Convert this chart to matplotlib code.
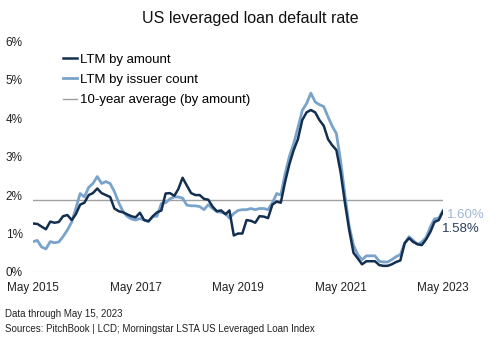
import matplotlib
matplotlib.use("Agg")
import matplotlib.pyplot as plt
import pandas as pd

plt.rcParams['font.family'] = ['Liberation Sans', 'DejaVu Sans']

dates = pd.date_range("2015-05-01", periods=97, freq="MS")

ltm_amount = [
    1.26, 1.25, 1.18, 1.11, 1.31, 1.28, 1.30, 1.45, 1.48, 1.35,
    1.50, 1.75, 1.80, 2.00, 2.05, 2.17, 2.05, 2.00, 1.95, 1.65,
    1.58, 1.55, 1.50, 1.45, 1.42, 1.54, 1.35, 1.32, 1.45, 1.55,
    1.60, 2.04, 2.05, 1.98, 2.15, 2.45, 2.25, 2.05, 2.00, 2.00,
    1.90, 1.88, 1.70, 1.58, 1.60, 1.50, 1.60, 0.95, 1.00, 1.00,
    1.35, 1.33, 1.28, 1.45, 1.44, 1.40, 1.75, 1.83, 1.80, 2.35,
    2.80, 3.17, 3.45, 3.95, 4.15, 4.21, 4.15, 3.95, 3.80, 3.45,
    3.30, 3.17, 2.60, 1.80, 1.10, 0.50, 0.35, 0.20, 0.28, 0.28,
    0.28, 0.18, 0.16, 0.16, 0.20, 0.26, 0.30, 0.75, 0.88, 0.78,
    0.72, 0.70, 0.85, 1.05, 1.30, 1.35, 1.58,
]

ltm_issuer = [
    0.79, 0.82, 0.65, 0.60, 0.79, 0.76, 0.78, 0.92, 1.09, 1.30,
    1.65, 2.04, 1.95, 2.20, 2.30, 2.48, 2.30, 2.35, 2.30, 2.09,
    1.80, 1.57, 1.45, 1.38, 1.35, 1.39, 1.35, 1.31, 1.44, 1.45,
    1.78, 1.80, 1.90, 1.95, 1.95, 1.92, 1.74, 1.72, 1.72, 1.70,
    1.62, 1.75, 1.65, 1.57, 1.55, 1.52, 1.40, 1.52, 1.60, 1.62,
    1.62, 1.65, 1.62, 1.65, 1.65, 1.62, 1.80, 2.04, 2.00, 2.56,
    3.00, 3.34, 3.75, 4.20, 4.38, 4.65, 4.42, 4.35, 4.30, 4.03,
    3.80, 3.60, 2.90, 2.00, 1.20, 0.70, 0.45, 0.32, 0.42, 0.42,
    0.42, 0.28, 0.26, 0.26, 0.32, 0.40, 0.45, 0.75, 0.92, 0.82,
    0.72, 0.78, 0.90, 1.18, 1.38, 1.40, 1.60,
]

ten_year_avg = 1.87
y_ticks = [0, 1, 2, 3, 4, 5, 6]
x_tick_dates = pd.to_datetime(["2015-05-01", "2017-05-01", "2019-05-01", "2021-05-01", "2023-05-01"])
x_tick_labels = ["May 2015", "May 2017", "May 2019", "May 2021", "May 2023"]

dark = "#132f50"
light = "#7aa3cc"

fig = plt.figure(figsize=(5, 3.4), dpi=100)
ax = fig.add_axes([0.066, 0.2, 0.82, 0.679])

ax.axhline(0, color="#d9d9d9", lw=0.8, zorder=1)
ax.axhline(ten_year_avg, color="#a0a0a0", lw=1.0, zorder=2, label="10-year average (by amount)")
ax.plot(dates, ltm_issuer, color=light, lw=2.0, zorder=3, label="LTM by issuer count")
ax.plot(dates, ltm_amount, color=dark, lw=1.8, zorder=4, label="LTM by amount")

ax.set_ylim(0, 6)
ax.set_xlim(dates[0], dates[-1])
ax.set_yticks(y_ticks)
ax.set_yticklabels([f"{v}%" for v in y_ticks])
ax.set_xticks(x_tick_dates)
ax.set_xticklabels(x_tick_labels)
ax.tick_params(axis="both", length=0, labelsize=8.5, colors="#222222")
ax.tick_params(axis="y", pad=7.5)
ax.tick_params(axis="x", pad=7)
for s in ax.spines.values():
    s.set_visible(False)

handles, labels = ax.get_legend_handles_labels()
order = [labels.index("LTM by amount"), labels.index("LTM by issuer count"),
         labels.index("10-year average (by amount)")]
ax.legend([handles[i] for i in order], [labels[i] for i in order],
          loc="upper left", bbox_to_anchor=(0.06, 0.97), frameon=False,
          fontsize=9.5, handlelength=1.1, handletextpad=0.2,
          labelspacing=0.62, borderaxespad=0)

ax.annotate(f"{ltm_issuer[-1]:.2f}%", xy=(dates[-1], ltm_issuer[-1]),
            xytext=(3, -3), textcoords="offset points", color="#9fb6d6",
            fontsize=9.5, va="center", ha="left", annotation_clip=False)
ax.annotate(f"{ltm_amount[-1]:.2f}%", xy=(dates[-1], ltm_amount[-1]),
            xytext=(-1, -13), textcoords="offset points", color="#2a3d5c",
            fontsize=9.5, va="center", ha="left", annotation_clip=False)

fig.text(0.5, 0.945, "US leveraged loan default rate", ha="center", va="center",
         fontsize=11.5, color="#111111")
fig.text(0.01, 0.076, "Data through May 15, 2023", ha="left", va="center",
         fontsize=7.0, color="#222222")
fig.text(0.01, 0.031, "Sources: PitchBook | LCD; Morningstar LSTA US Leveraged Loan Index",
         ha="left", va="center", fontsize=7.0, color="#222222")

fig.savefig("out.png", dpi=100)
